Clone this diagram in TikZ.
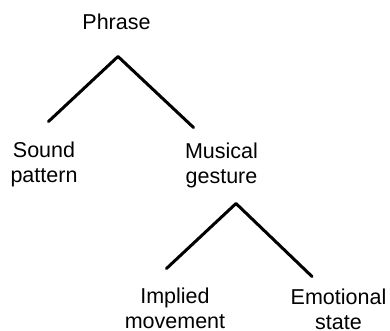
\documentclass[tikz,border=0pt]{standalone}
\usepackage{fontspec}
\setmainfont{Liberation Sans}
\begin{document}
\begin{tikzpicture}[x=1pt,y=-1pt,
  lbl/.style={anchor=base,align=center,inner sep=0pt,font=\fontsize{21.5}{25}\selectfont},
  branch/.style={line width=3pt,line cap=round,line join=round}]
\useasboundingbox (0,0) rectangle (390,331);
\node[lbl] (phrase) at (116.5,29.5) {Phrase};
\node[lbl] (sound) at (44,182.5) {Sound\\pattern};
\node[lbl] (musical) at (221.5,183.5) {Musical\\gesture};
\node[lbl] (implied) at (175,328.5) {Implied\\movement};
\node[lbl] (emotional) at (338.5,329.5) {Emotional\\state};
\coordinate (a1) at (118,56.5);
\coordinate (l1) at (48.5,121.5);
\coordinate (r1) at (193.5,127.5);
\coordinate (a2) at (236,203.5);
\coordinate (l2) at (166.5,268.5);
\coordinate (r2) at (312,276.5);
\draw[branch] (l1) -- (a1) -- (r1);
\draw[branch] (l2) -- (a2) -- (r2);
\end{tikzpicture}
\end{document}
